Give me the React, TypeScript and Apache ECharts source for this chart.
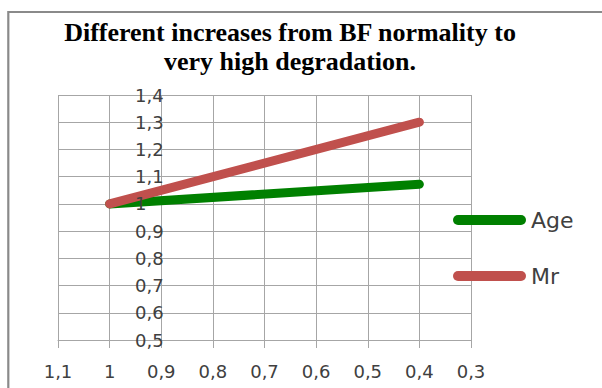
import React, { useEffect, useRef } from "react";
import * as echarts from "echarts";

const titleLines = ["Different increases from BF normality to", "very high degradation."];
const seriesNames = ["Age", "Mr"];
const ageData: [number, number][] = [[1, 1], [0.4, 1.072]];
const mrData: [number, number][] = [[1, 1], [0.4, 1.3]];
const xRange = { min: 0.3, max: 1.1, step: 0.1 };
const yRange = { min: 0.5, max: 1.4, step: 0.1 };

const fmt = (v: number) => String(+v.toFixed(1)).replace(".", ",");

export default function App() {
  const ref = useRef<HTMLDivElement>(null);
  useEffect(() => {
    if (!ref.current) return;
    const chart = echarts.init(ref.current, undefined, { renderer: "svg" });
    const labelFont = "DejaVu Sans";
    const grid = "#a6a6a6";
    const pill = "path://M5,0 H68 A5,5 0 0 1 68,10 H5 A5,5 0 0 1 5,0 Z";
    chart.setOption({
      animation: false,
      backgroundColor: "#ffffff",
      title: {
        text: titleLines.join("\n"),
        left: 285,
        top: 13,
        textAlign: "center",
        textStyle: {
          fontFamily: "Liberation Serif",
          fontWeight: "bold",
          fontSize: 26,
          lineHeight: 29,
          color: "#000000",
        },
      },
      graphic: [
        {
          type: "rect",
          shape: { x: 8.3, y: 12, width: 700, height: 500 },
          style: { fill: "none", stroke: "#8a8a8a", lineWidth: 2.2 },
          silent: true,
          z: 10,
        },
      ],
      grid: { left: 58, top: 95, width: 413, height: 245 },
      xAxis: {
        type: "value",
        min: xRange.min,
        max: xRange.max,
        interval: xRange.step,
        inverse: true,
        axisLine: { show: true, lineStyle: { color: grid, width: 1 } },
        axisTick: { show: true, length: 8, lineStyle: { color: grid, width: 1 } },
        splitLine: { show: true, lineStyle: { color: grid, width: 1 } },
        axisLabel: {
          formatter: fmt,
          fontFamily: labelFont,
          fontSize: 18,
          color: "#404040",
          margin: 22,
        },
      },
      yAxis: [
        {
          type: "value",
          min: yRange.min,
          max: yRange.max,
          interval: yRange.step,
          axisLine: { show: false },
          axisTick: { show: false },
          splitLine: { show: true, lineStyle: { color: grid, width: 1 } },
          axisLabel: { show: false },
        },
        {
          type: "value",
          position: "left",
          offset: 0,
          z: 5,
          min: yRange.min,
          max: yRange.max,
          interval: yRange.step,
          axisLine: { show: false },
          axisTick: { show: false },
          splitLine: { show: false },
          axisLabel: {
            inside: true,
            margin: 77,
            formatter: fmt,
            fontFamily: labelFont,
            fontSize: 18,
            color: "#404040",
          },
        },
      ],
      legend: {
        orient: "vertical",
        left: 448,
        top: 203,
        itemWidth: 73,
        itemHeight: 10,
        itemGap: 32,
        icon: pill,
        data: seriesNames,
        textStyle: {
          fontFamily: labelFont,
          fontSize: 22,
          lineHeight: 24,
          color: "#404040",
        },
      },
      series: [
        {
          name: seriesNames[0],
          type: "line",
          data: ageData,
          symbol: "none",
          yAxisIndex: 0,
          lineStyle: { color: "#008000", width: 9, cap: "round", join: "round" },
          itemStyle: { color: "#008000" },
        },
        {
          name: seriesNames[1],
          type: "line",
          data: mrData,
          symbol: "none",
          yAxisIndex: 0,
          lineStyle: { color: "#c0504d", width: 9, cap: "round", join: "round" },
          itemStyle: { color: "#c0504d" },
        },
      ],
    });
    return () => chart.dispose();
  }, []);
  return (
    <div
      ref={ref}
      style={{ position: "fixed", left: 0, top: 0, width: 602, height: 388, background: "#fff" }}
    />
  );
}
